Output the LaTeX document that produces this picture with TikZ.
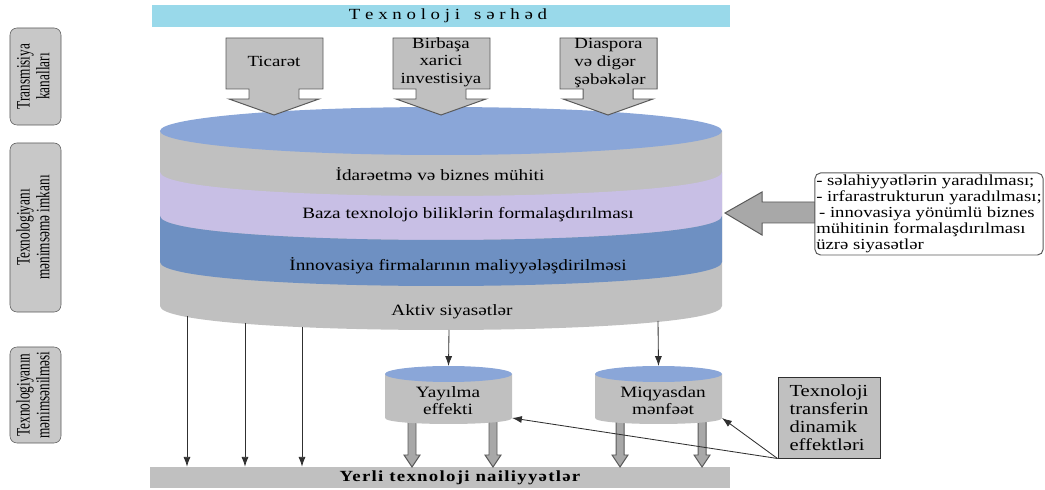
\documentclass[tikz,border=0pt]{standalone}
\usepackage{fontspec}
\usepackage{graphicx}
\setmainfont{Liberation Serif}[FakeStretch=1.22]
\newfontfamily\sidefont{Liberation Serif}
\usetikzlibrary{positioning,arrows.meta}

\definecolor{barcyan}{HTML}{99D9EA}
\definecolor{topblue}{HTML}{8AA6D8}
\definecolor{bodygray}{HTML}{C0C0C0}
\definecolor{labelgray}{HTML}{C8C8C8}
\definecolor{lavband}{HTML}{C8BFE5}
\definecolor{blueband}{HTML}{6E90C2}
\definecolor{arrowgray}{HTML}{A8A8A8}
\definecolor{edgegray}{HTML}{5A5A5A}
\definecolor{linegray}{HTML}{303030}

\tikzset{
  txt/.style={inner sep=0pt, align=center, font=\fontsize{11}{12.5}\selectfont},
  sidelabel/.style={draw=edgegray, fill=labelgray, rounded corners=5pt, rotate=90,
    inner sep=0pt, align=center, minimum height=1.275cm},
  callout/.style={draw=edgegray, fill=bodygray, line width=0.7pt},
  fatarrow/.style={draw=edgegray, fill=arrowgray, line width=0.7pt},
  thinarrow/.style={draw=linegray, line width=0.6pt, -{Latex[length=7pt,width=5pt]}}
}

\begin{document}
\begin{tikzpicture}[x=0.025cm, y=-0.025cm]
  \useasboundingbox (0,0) rectangle (1045,490);

  % Top bar
  \node[fill=barcyan, minimum width=14.45cm, minimum height=0.55cm, inner sep=0pt,
        font=\fontsize{11}{12}\selectfont] (serhed) at (441,16)
        {\hspace{10pt}T e x n o l o j i \ \ s ə r h ə d};

  % Side labels
  \node[sidelabel, minimum width=2.425cm] (trans) at (35.5,76.5)
    {\scalebox{0.7}[1]{\sidefont\fontsize{13.5}{14}\selectfont
     \begin{tabular}{@{}c@{}}Transmisiya\\kanalları\end{tabular}}};
  \node[sidelabel, minimum width=4.225cm] (imkan) at (35.5,227.5)
    {\scalebox{0.7}[1]{\sidefont\fontsize{13.5}{14}\selectfont
     \begin{tabular}{@{}c@{}}Texnologiyanı\\mənimsəmə imkanı\end{tabular}}};
  \node[sidelabel, minimum width=2.4cm] (menim) at (35.5,395)
    {\scalebox{0.7}[1]{\sidefont\fontsize{13.5}{14}\selectfont
     \begin{tabular}{@{}c@{}}Texnologiyanın\\mənimsənilməsi\end{tabular}}};

  % Big cylinder
  \fill[bodygray] (160,131) -- (160,306) .. controls (160,338) and (722,338) .. (722,306) -- (722,131) -- cycle;
  \fill[lavband] (160,172) .. controls (160,204) and (722,204) .. (722,172)
    -- (722,216) .. controls (722,248) and (160,248) .. (160,216) -- cycle;
  \fill[blueband] (160,216) .. controls (160,248) and (722,248) .. (722,216)
    -- (722,262) .. controls (722,294) and (160,294) .. (160,262) -- cycle;
  \fill[topblue] (441,131) ellipse [x radius=281, y radius=24];

  \node[txt, font=\fontsize{11.2}{12}\selectfont] (idare) at (440,174) {İdarəetmə və biznes mühiti};
  \node[txt, font=\fontsize{11.2}{12}\selectfont] (baza) at (468,215) {Baza texnolojo biliklərin formalaşdırılması};
  \node[txt, font=\fontsize{11.2}{12}\selectfont] (innov) at (458,266) {İnnovasiya firmalarının maliyyələşdirilməsi};
  \node[txt, font=\fontsize{11.2}{12}\selectfont] (aktiv) at (452,312) {Aktiv siyasətlər};

  % Transmission channels
  \foreach \l/\c in {226/274, 393/441, 560/608} {
    \filldraw[callout] (\l,38) -- (\l+97,38) -- (\l+97,89) -- (\c+25,89) -- (\c+25,99) -- (\c+45,99)
      -- (\c,115) -- (\c-45,99) -- (\c-25,99) -- (\c-25,89) -- (\l,89) -- cycle;
  }
  \node[txt] (ticaret) at (274,61) {Ticarət};
  \node[txt] (birbasa) at (441,62) {Birbaşa\\xarici\\investisiya};
  \node[txt, align=left] (diaspora) at (610,63) {Diaspora\\və digər\\şəbəkələr};

  % Bottom bar
  \node[fill=bodygray, minimum width=14.5cm, minimum height=0.525cm, inner sep=0pt] (yerli) at (440,477.5) {};
  \node[txt, font=\bfseries\fontsize{11}{12}\selectfont\addfontfeature{LetterSpace=8}] (yerli-txt) at (460,478)
    {Yerli texnoloji nailiyyətlər};

  % Direct arrows down
  \foreach \x/\y [count=\i] in {187/316, 245/323, 302/327} {
    \coordinate (drop\i) at (\x,\y);
    \draw[thinarrow] (drop\i) -- (drop\i |- yerli.north);
  }

  % Fat arrows under small cylinders
  \foreach \x in {412,493,620,702} {
    \filldraw[fatarrow] (\x-4,415) -- (\x-4,455) -- (\x-8,455) -- (\x,467) -- (\x+8,455) -- (\x+4,455) -- (\x+4,415) -- cycle;
  }

  % Small cylinders
  \foreach \n/\l in {yay/385, miq/595} {
    \fill[bodygray] (\l,374) -- (\l,418) .. controls (\l,426) and (\l+127,426) .. (\l+127,418) -- (\l+127,374) -- cycle;
    \fill[topblue] (\l+63.5,374) ellipse [x radius=63.5, y radius=8];
    \coordinate (\n-top) at (\l+63.5,366);
    \coordinate (\n-se) at (\l+127,418);
  }
  \node[txt, font=\fontsize{11.2}{12}\selectfont] (yay) at (448,401) {Yayılma\\effekti};
  \node[txt, font=\fontsize{11.2}{12}\selectfont] (miq) at (663,401) {Miqyasdan\\mənfəət};

  \coordinate (dyay) at (449,330);
  \coordinate (dmiq) at (658,321);
  \draw[thinarrow] (dyay) -- (yay-top);
  \draw[thinarrow] (dmiq) -- (miq-top);

  % Dynamic effects
  \node[draw=linegray, fill=bodygray, line width=0.7pt, minimum width=2.55cm, minimum height=2cm,
        align=left, font=\fontsize{12}{12.8}\selectfont] (tdyn) at (829,418)
        {Texnoloji\\transferin\\dinamik\\effektləri};
  \draw[thinarrow] (tdyn.south west) -- (yay-se);
  \draw[thinarrow] (tdyn.south west) -- (miq-se);

  % Policies
  \filldraw[fatarrow] (815,202) -- (762,202) -- (762,192) -- (725,213) -- (762,235) -- (762,223) -- (815,223) -- cycle;
  \node[draw=edgegray, fill=white, rounded corners=4pt, line width=0.7pt, minimum width=5.7cm, minimum height=2.05cm,
        inner sep=1pt, align=left, font=\fontsize{10.9}{11.4}\selectfont] (policy) at (929,214)
        {- səlahiyyətlərin yaradılması;\\- irfarastrukturun yaradılması;\\\hspace{2pt}- innovasiya yönümlü biznes\\mühitinin formalaşdırılması\\üzrə siyasətlər};

\end{tikzpicture}
\end{document}
